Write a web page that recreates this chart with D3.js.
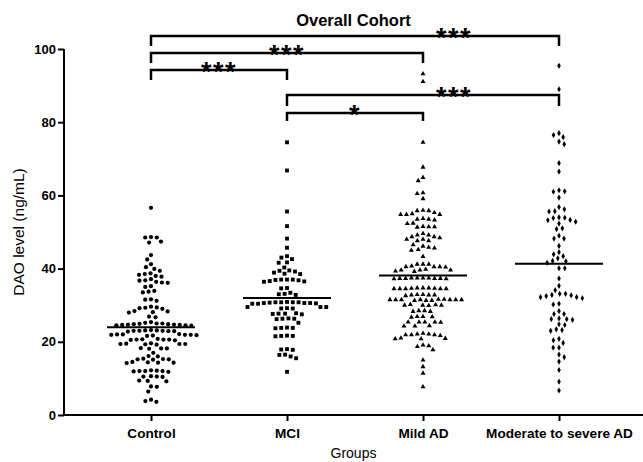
<!DOCTYPE html>
<html><head><meta charset="utf-8">
<script src="https://cdn.jsdelivr.net/npm/d3@7"></script>
<style>body{margin:0;background:#fff}svg{display:block}</style>
</head><body><svg id="c" width="643" height="462"></svg>
<script>
const groups = ["Control", "MCI", "Mild AD", "Moderate to severe AD"];
const controlValues = [56.6,
  48.6, 47.4, 47.1, 48.5, 48.5, 43.7, 42.5, 41.2, 40.4, 39.9, 39.4,
  38.5, 38.0, 37.8, 38.3, 38.7, 36.8, 36.1, 36.2, 36.4, 36.7, 37.1, 35.2, 35.0,
  33.7, 33.5, 33.9, 31.5, 31.2, 31.6, 29.4, 29.2, 29.0, 29.3, 29.6, 28.3, 28.1, 28.0, 28.4,
  26.9, 26.7, 25.4, 25.2, 25.0,
  24.8, 24.7, 24.6, 24.9, 25.0, 24.5, 24.6, 24.8, 24.4, 24.7, 24.5,
  23.1, 23.0, 22.9, 23.2, 23.0, 22.8, 23.1, 22.9, 23.0,
  22.0, 21.8, 21.6, 21.9, 21.7, 21.9, 22.0, 22.1, 21.9,
  20.6, 20.5, 20.7, 20.6, 20.4, 20.8, 20.6,
  19.4, 19.3, 19.5, 19.4, 19.2, 19.6, 19.4,
  18.2, 18.1, 18.3, 18.2, 17.0, 16.1, 16.0,
  15.2, 15.1, 15.3, 15.2, 15.4, 14.3, 14.2, 14.4, 14.3, 14.5,
  12.0, 11.9, 12.1, 12.0, 11.8, 12.2, 12.0,
  10.5, 10.4, 10.6, 10.5, 9.3, 9.2, 9.4, 7.8, 7.7, 6.4, 4.2, 3.6, 3.8];
const mciValues = [74.5, 66.8, 55.6, 51.6, 48.2, 45.7,
  43.4, 42.6, 43.0, 41.7, 41.6, 40.3,
  39.5, 39.2, 38.6, 38.5, 38.9, 39.4,
  37.0, 36.9, 36.6, 36.4, 36.5, 36.8, 37.0, 37.0, 34.7, 34.6,
  33.0, 32.8, 33.1, 33.4,
  30.6, 30.7, 30.9, 30.5, 30.8, 30.8, 30.8, 30.8, 30.4, 30.4, 30.6, 30.6,
  29.5, 29.2, 29.5, 29.1, 29.1, 29.5,
  27.7, 27.6, 27.8, 27.7, 27.5, 26.3, 26.2, 26.4, 26.3, 25.2,
  23.8, 23.7, 23.9, 23.8, 21.6, 21.5, 21.7, 21.6,
  17.9, 17.8, 18.0, 16.5, 16.0, 15.5, 16.4, 11.8];
const mildADValues = [93.2, 91.1, 74.5, 67.7, 64.9, 64.0, 60.7, 60.5, 59.1,
  55.0, 54.8, 55.9, 55.3, 55.8, 55.8, 54.8, 54.8, 53.5, 53.3, 53.5, 53.7, 52.4, 52.3,
  51.4, 51.3, 51.5, 51.4, 48.7, 49.2, 48.7, 49.6, 49.2, 48.0, 47.6, 48.0, 47.6, 48.4,
  45.8, 45.6, 45.2, 45.0, 46.1, 46.5, 43.3,
  40.5, 40.5, 41.2, 41.2, 41.2, 40.5, 40.7, 40.4, 39.6, 39.6, 39.6, 39.3, 39.2, 39.8,
  37.4, 37.4, 37.2, 37.2, 37.3, 37.3, 37.3, 37.3, 37.4, 37.4,
  34.7, 34.6, 34.6, 34.5, 34.5, 34.5, 34.5, 34.5, 34.7, 34.7,
  32.9, 32.8, 32.8, 32.6, 32.9, 32.8,
  31.5, 31.5, 31.5, 31.6, 31.3, 31.3, 31.3, 31.5, 31.6, 31.5, 31.5, 31.5,
  30.1, 30.0, 29.9, 30.0, 30.0, 30.2, 28.5, 28.3, 28.3, 28.5,
  26.9, 26.8, 26.9, 26.7, 25.4, 25.3, 25.4, 25.4, 25.4, 24.3, 24.3, 24.4,
  22.3, 22.1, 21.9, 21.9, 21.7, 21.9, 22.1, 20.9, 20.8, 20.8, 21.0,
  19.1, 18.9, 18.7, 17.8, 15.0, 13.2, 11.4, 7.7];
const moderateSevereADValues = [95.4, 89.0, 77.0, 76.5, 75.9, 74.7, 74.0, 68.8, 66.5,
  61.4, 61.0, 61.1, 59.4, 56.8, 55.7, 55.6, 56.2, 53.8, 53.2, 53.3, 53.9, 54.0, 52.8, 52.3,
  51.0, 50.8, 48.2, 48.2, 49.0, 46.2, 44.5, 43.9, 43.4, 42.8, 42.0, 42.1, 41.6, 40.1, 40.1,
  37.3, 35.3, 34.1, 33.1, 32.8, 32.2, 31.9, 32.2, 32.5, 32.7, 33.1, 30.4, 30.2,
  28.4, 27.6, 27.6, 26.2, 26.2, 26.0, 26.4, 24.6, 24.8, 23.2, 23.0, 23.4,
  20.4, 20.8, 19.7, 18.4, 18.4, 16.5, 15.8, 14.6, 12.3, 9.1, 6.7];
const groupValues = [controlValues, mciValues, mildADValues, moderateSevereADValues];
const medians = [24.0, 32.0, 38.1, 41.3];
const yTicks = [0, 20, 40, 60, 80, 100];
const comparisons = [
  {a: "Control", b: "Moderate to severe AD", label: "***"},
  {a: "Control", b: "Mild AD", label: "***"},
  {a: "Control", b: "MCI", label: "***"},
  {a: "MCI", b: "Moderate to severe AD", label: "***"},
  {a: "MCI", b: "Mild AD", label: "*"}
];

// ---- layout / style ----
const FONT = "'Liberation Sans', Arial, Helvetica, sans-serif";
const plot = {left: 64, right: 643, top: 49, bottom: 415};
const bracketLayout = [
  {y: 36, drop: 10, labelAt: "Mild AD", labelDx: 31},
  {y: 53, drop: 10},
  {y: 70, drop: 10},
  {y: 95, drop: 11, labelAt: "Mild AD", labelDx: 31},
  {y: 113, drop: 8}
];
const symbols = [d3.symbolCircle, d3.symbolSquare, d3.symbolTriangle, d3.symbolDiamond];
const symbolSizes = [14, 15, 11, 11];

const svg = d3.select("#c");
const x = d3.scalePoint().domain(groups).range([151, 559]);
const y = d3.scaleLinear().domain([0, 100]).range([plot.bottom, plot.top]);

// axes lines
svg.append("line").attr("x1", plot.left).attr("x2", plot.left)
  .attr("y1", plot.top).attr("y2", plot.bottom + 1)
  .attr("stroke", "#000").attr("stroke-width", 2);
svg.append("line").attr("x1", plot.left - 1).attr("x2", plot.right)
  .attr("y1", plot.bottom).attr("y2", plot.bottom)
  .attr("stroke", "#000").attr("stroke-width", 2);

const yAxis = svg.append("g").attr("transform", `translate(${plot.left},0)`)
  .call(d3.axisLeft(y).tickValues(yTicks).tickSize(6).tickPadding(2));
yAxis.select(".domain").remove();
yAxis.selectAll(".tick line").attr("stroke-width", 2);
yAxis.selectAll("text").attr("font-family", FONT).attr("font-size", 13).attr("font-weight", "bold").attr("fill", "#000");

const xAxis = svg.append("g").attr("transform", `translate(0,${plot.bottom})`)
  .call(d3.axisBottom(x).tickSize(6).tickPadding(7));
xAxis.select(".domain").remove();
xAxis.selectAll(".tick line").attr("stroke-width", 2);
xAxis.selectAll("text").attr("font-family", FONT).attr("font-size", 13.6).attr("font-weight", "bold").attr("fill", "#000");

// titles
const cx = (plot.left + plot.right) / 2;
svg.append("text").attr("x", cx).attr("y", 26).attr("text-anchor", "middle")
  .attr("font-family", FONT).attr("font-size", 16.5).attr("font-weight", "bold").text("Overall Cohort");
svg.append("text").attr("x", cx).attr("y", 458).attr("text-anchor", "middle")
  .attr("font-family", FONT).attr("font-size", 14).text("Groups");
svg.append("text").attr("transform", `translate(24,${(plot.top + plot.bottom) / 2}) rotate(-90)`)
  .attr("text-anchor", "middle").attr("font-family", FONT).attr("font-size", 15.5).text("DAO level (ng/mL)");

// beeswarm layout
function swarm(values, minDist) {
  const pts = values.map(v => ({v, py: y(v)})).sort((a, b) => a.py - b.py);
  const placed = [];
  pts.forEach((p, i) => {
    const blocks = [];
    placed.forEach(q => {
      const dy = Math.abs(q.py - p.py);
      if (dy < minDist) {
        const dx = Math.sqrt(minDist * minDist - dy * dy);
        blocks.push([q.dx - dx, q.dx + dx]);
      }
    });
    const cands = [0];
    blocks.forEach(b => cands.push(b[0], b[1]));
    const sgn = i % 2 ? 1 : -1;
    cands.sort((a, b) => (Math.abs(a) - Math.abs(b)) || (sgn * (a - b)));
    let best = 0;
    for (const c of cands) {
      if (blocks.every(b => c <= b[0] + 1e-6 || c >= b[1] - 1e-6)) { best = c; break; }
    }
    p.dx = best;
    placed.push(p);
  });
  return placed;
}

groups.forEach((g, gi) => {
  const pts = swarm(groupValues[gi], 5.8);
  svg.append("g").selectAll("path").data(pts).join("path")
    .attr("d", d3.symbol().type(symbols[gi]).size(symbolSizes[gi]))
    .attr("transform", d => `translate(${x(g) + d.dx},${d.py})`)
    .attr("fill", "#000");
  svg.append("line").attr("x1", x(g) - 44).attr("x2", x(g) + 44)
    .attr("y1", y(medians[gi])).attr("y2", y(medians[gi]))
    .attr("stroke", "#000").attr("stroke-width", 2);
});

// significance brackets
comparisons.forEach((c, i) => {
  const L = bracketLayout[i];
  const x1 = x(c.a), x2 = x(c.b);
  svg.append("path")
    .attr("d", `M${x1},${L.y + L.drop}V${L.y}H${x2}V${L.y + L.drop}`)
    .attr("fill", "none").attr("stroke", "#000").attr("stroke-width", 2.5);
  const lx = L.labelAt ? x(L.labelAt) + L.labelDx : (x1 + x2) / 2;
  svg.append("text").attr("x", lx).attr("y", L.y + 11).attr("text-anchor", "middle")
    .attr("font-family", FONT).attr("font-size", 27).attr("font-weight", "bold")
    .attr("letter-spacing", 1.5).text(c.label);
});
</script></body></html>
